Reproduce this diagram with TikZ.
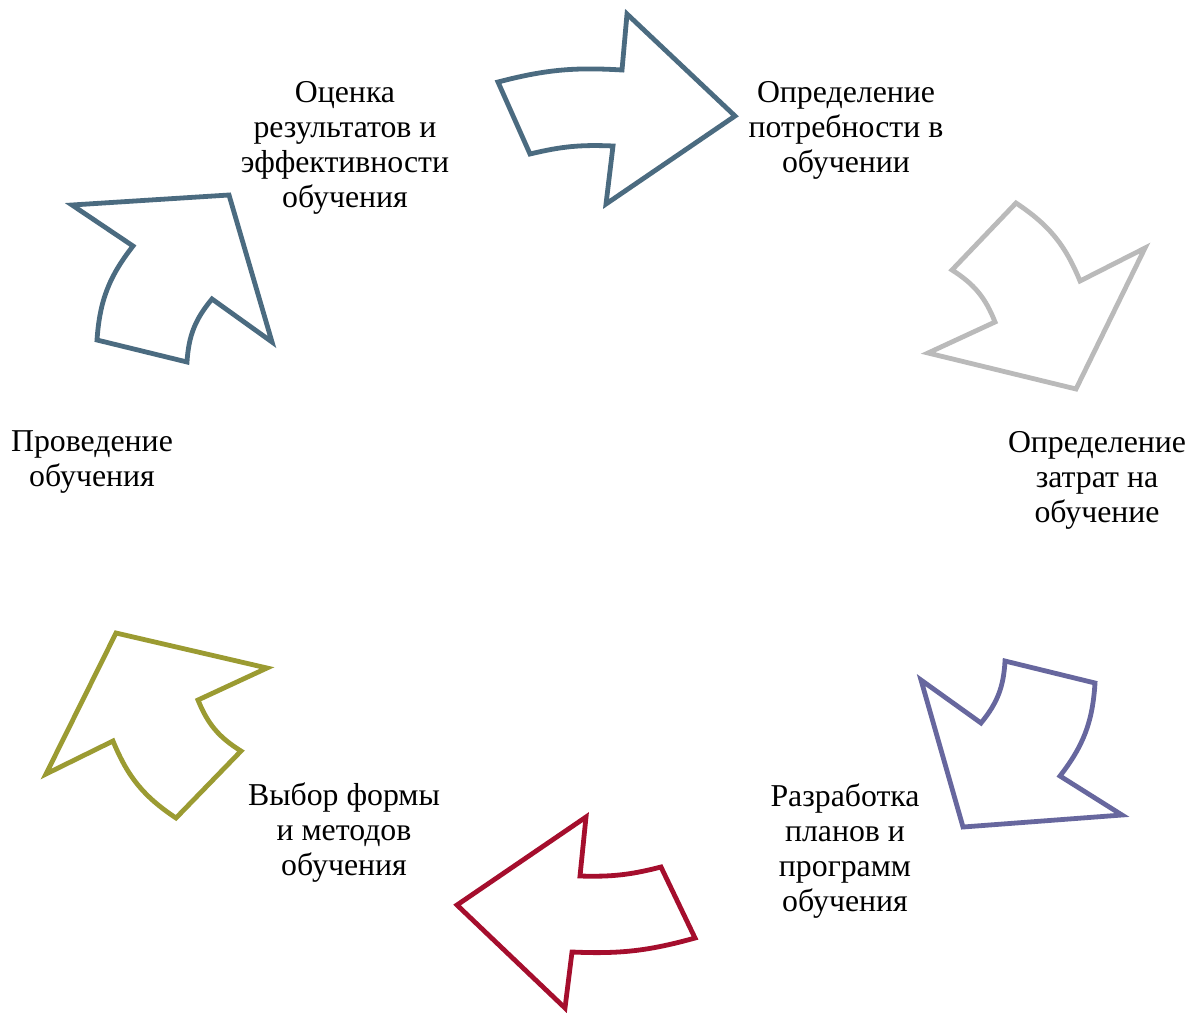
\documentclass[tikz,border=0pt]{standalone}
\usepackage{fontspec}
\setmainfont{Liberation Serif}
\definecolor{slate}{HTML}{4B6B80}
\definecolor{ashgray}{HTML}{BABABA}
\definecolor{dusk}{HTML}{67679E}
\definecolor{wine}{HTML}{A50E2D}
\definecolor{olive}{HTML}{9B9B32}
\tikzstyle{stage}=[align=center, inner sep=0pt, font=\fontsize{15.9}{17.5}\selectfont]
\tikzstyle{cyc}=[line width=2.4pt, fill=white]
\newcommand{\stage}{\node[stage]}

\begin{document}
\begin{tikzpicture}[x=0.5pt, y=0.5pt]
\useasboundingbox (0,0) rectangle (1192,-1012);
% arrows, clockwise from the top
\draw[cyc, draw=slate] (498,-82) to[bend left=9] (622,-70) -- (627,-14) -- (735,-116)
    -- (606,-204) -- (613,-146) to[bend right=8] (530,-154) -- cycle;
\draw[cyc, draw=ashgray] (1016,-203) to[bend left=17] (1080,-281) -- (1145,-248) -- (1076,-389)
    -- (928,-353) -- (995,-322) to[bend right=18] (952,-270) -- cycle;
\draw[cyc, draw=dusk] (921,-680) -- (981,-723) to[bend right=18] (1005,-661) -- (1095,-683)
    to[bend left=17] (1060,-776) -- (1122,-815) -- (963,-827) -- cycle;
\draw[cyc, draw=wine] (586,-817) -- (580,-876) to[bend right=8] (661,-867) -- (695,-938)
    to[bend left=9] (572,-952) -- (565,-1008) -- (457,-905) -- cycle;
\draw[cyc, draw=olive] (116,-633) -- (267,-668) -- (198,-700) to[bend right=18] (241,-751)
    -- (176,-818) to[bend left=17] (113,-741) -- (46,-774) -- cycle;
\draw[cyc, draw=slate] (72,-205) -- (229,-195) -- (272,-342) -- (212,-299) to[bend right=18] (187,-362)
    -- (97,-340) to[bend left=17] (133,-246) -- cycle;
% stages
\stage (need) at (846,-130) {Определение\\потребности в\\обучении};
\stage (cost) at (1097,-480) {Определение\\затрат на\\обучение};
\stage (plan) at (845,-851) {Разработка\\планов и\\программ\\обучения};
\stage (form) at (344,-833) {Выбор формы\\и методов\\обучения};
\stage (run) at (92,-462) {Проведение\\обучения};
\stage (eval) at (345,-148) {Оценка\\результатов и\\эффективности\\обучения};
\end{tikzpicture}
\end{document}
